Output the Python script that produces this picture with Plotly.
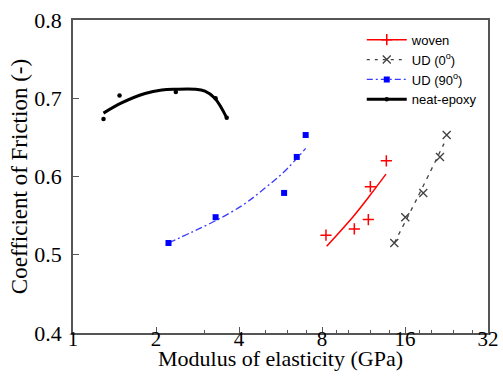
import plotly.graph_objects as go

# ---- data ----
woven_E = [8.27, 10.48, 11.78, 11.98, 13.69]
woven_cof = [0.525, 0.533, 0.545, 0.587, 0.620]
woven_fit_E = [8.32, 10.39, 11.95, 13.65]
woven_fit_cof = [0.511, 0.549, 0.576, 0.603]

ud0_E = [14.63, 16.04, 18.64, 21.43, 22.66]
ud0_cof = [0.515, 0.548, 0.579, 0.625, 0.653]
ud0_fit_E = [14.63, 17.64, 22.16]
ud0_fit_cof = [0.515, 0.571, 0.642]

ud90_E = [2.22, 3.29, 5.83, 6.48, 6.98]
ud90_cof = [0.515, 0.548, 0.579, 0.625, 0.653]
ud90_fit_E = [2.22, 2.70, 3.29, 4.15, 4.92, 5.83, 6.98]
ud90_fit_cof = [0.515, 0.529, 0.5435, 0.564, 0.584, 0.606, 0.636]

epoxy_E = [1.29, 1.475, 2.36, 3.29, 3.61]
epoxy_cof = [0.6735, 0.7035, 0.708, 0.700, 0.675]
epoxy_fit_E = [1.29, 1.50, 1.825, 2.10, 2.36, 2.77, 3.01, 3.27, 3.61]
epoxy_fit_cof = [0.681, 0.694, 0.706, 0.7105, 0.7115, 0.7115, 0.709, 0.700, 0.675]

x_ticks = [1, 2, 4, 8, 16, 32]
x_minor_ticks = [3, 5, 6, 7, 9, 10, 12, 14, 18, 20, 24, 28]
y_ticks = [0.4, 0.5, 0.6, 0.7, 0.8]

x_title = "Modulus of elasticity (GPa)"
y_title = "Coefficient of Friction (-)"

RED = "#ff0000"
GRAY = "#404040"
BLUE = "#0000ff"
BLUE_LINE = "#3a3aff"
BLACK = "#000000"

fig = go.Figure()

# fitted curves
fig.add_trace(go.Scatter(x=woven_fit_E, y=woven_fit_cof, mode="lines", line_shape="spline",
                         line=dict(color=RED, width=1.5), showlegend=False))
fig.add_trace(go.Scatter(x=ud0_fit_E, y=ud0_fit_cof, mode="lines", line_shape="spline",
                         line=dict(color=GRAY, width=1.3, dash="4px,5px"), showlegend=False))
fig.add_trace(go.Scatter(x=ud90_fit_E, y=ud90_fit_cof, mode="lines", line_shape="spline",
                         line=dict(color=BLUE_LINE, width=1.3, dash="7px,3px,2px,3px"), showlegend=False))
fig.add_trace(go.Scatter(x=epoxy_fit_E, y=epoxy_fit_cof, mode="lines", line_shape="spline",
                         line=dict(color=BLACK, width=3), showlegend=False))

# measured points
fig.add_trace(go.Scatter(x=woven_E, y=woven_cof, mode="markers", showlegend=False,
                         marker=dict(symbol="cross-thin", size=8, line=dict(color=RED, width=1.5))))
fig.add_trace(go.Scatter(x=ud0_E, y=ud0_cof, mode="markers", showlegend=False,
                         marker=dict(symbol="x-thin", size=8, line=dict(color=GRAY, width=1.3))))
fig.add_trace(go.Scatter(x=ud90_E, y=ud90_cof, mode="markers", showlegend=False,
                         marker=dict(symbol="square", size=6, color=BLUE)))
fig.add_trace(go.Scatter(x=epoxy_E, y=epoxy_cof, mode="markers", showlegend=False,
                         marker=dict(symbol="circle", size=4.5, color=BLACK)))

# legend-only entries (line + point samples)
fig.add_trace(go.Scatter(x=[None], y=[None], mode="lines+markers", name="woven",
                         line=dict(color=RED, width=1.5),
                         marker=dict(symbol="cross-thin", size=8, line=dict(color=RED, width=1.5))))
fig.add_trace(go.Scatter(x=[None], y=[None], mode="lines+markers", name="UD (0<sup>o</sup>)",
                         line=dict(color=GRAY, width=1.3, dash="3px,5px"),
                         marker=dict(symbol="x-thin", size=8, line=dict(color=GRAY, width=1.3))))
fig.add_trace(go.Scatter(x=[None], y=[None], mode="lines+markers", name="UD (90<sup>o</sup>)",
                         line=dict(color=BLUE_LINE, width=1.3, dash="6px,3px,2px,3px"),
                         marker=dict(symbol="square", size=6, color=BLUE)))
fig.add_trace(go.Scatter(x=[None], y=[None], mode="lines+markers", name="neat-epoxy",
                         line=dict(color=BLACK, width=3),
                         marker=dict(symbol="circle", size=4.5, color=BLACK)))

serif = "Liberation Serif, Times New Roman, serif"
fig.update_layout(
    width=503, height=378,
    margin=dict(l=73, r=15, t=20, b=45, autoexpand=False),
    paper_bgcolor="white", plot_bgcolor="white",
    font=dict(family=serif, size=22, color="black"),
    showlegend=True,
    legend=dict(x=0.985, y=0.985, xanchor="right", yanchor="top",
                bgcolor="rgba(0,0,0,0)", borderwidth=0,
                font=dict(family="Liberation Sans, Arial, sans-serif", size=13, color="black"),
                tracegroupgap=0, itemwidth=40),
    xaxis=dict(type="log", range=[0, 1.50515], tickvals=x_ticks,
               ticktext=[str(v) for v in x_ticks],
               ticks="inside", ticklen=6, tickcolor="#555", tickwidth=1,
               minor=dict(tickvals=x_minor_ticks, ticks="inside", ticklen=3, tickcolor="#555"),
               showline=True, linecolor="#555", linewidth=1.5, mirror=True,
               showgrid=False, zeroline=False, ticklabelstandoff=-14,
               tickfont=dict(family=serif, size=21)),
    yaxis=dict(range=[0.4, 0.8], tickvals=y_ticks, tickformat=".1f",
               ticks="inside", ticklen=6, tickcolor="#555", tickwidth=1,
               showline=True, linecolor="#555", linewidth=1.5, mirror=True,
               showgrid=False, zeroline=False, ticklabelstandoff=5,
               tickfont=dict(family=serif, size=22),
               title=dict(text=y_title, font=dict(family=serif, size=23), standoff=0)),
    annotations=[dict(text=x_title, xref="paper", yref="paper", x=0.5, y=-0.083,
                      xanchor="center", yanchor="middle", showarrow=False,
                      font=dict(family=serif, size=22, color="black"))],
)

fig.write_html("out.html", config={"displayModeBar": False},
               post_script="document.body.style.margin='0';")
